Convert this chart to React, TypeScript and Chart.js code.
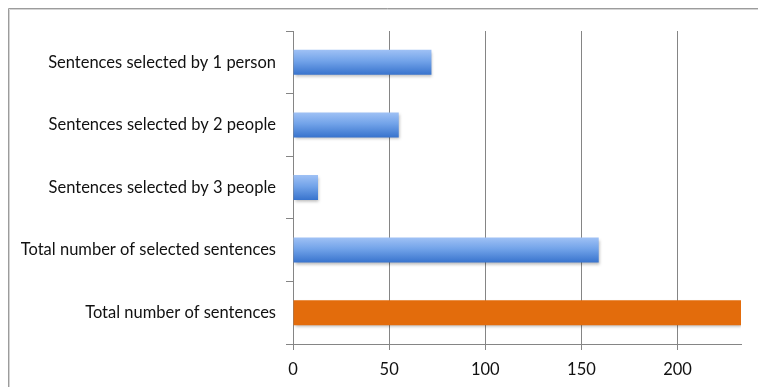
import { useEffect, useRef } from "react";
import { Chart, registerables } from "chart.js";

Chart.register(...registerables);

// Category labels, top to bottom
const categories = [
  "Sentences selected by 1 person",
  "Sentences selected by 2 people",
  "Sentences selected by 3 people",
  "Total number of selected sentences",
  "Total number of sentences",
];
// Sentence counts per category
const counts = [72, 55, 13, 159, 233];
// The overall total is drawn in orange
const highlightIndex = 4;
const axisMax = 233;
const tickStep = 50;

const FONT = "Lato, 'DejaVu Sans', sans-serif";
const GRID = "#858585";

const framePlugin = {
  id: "frame",
  beforeDraw(chart: any) {
    const c = chart.ctx;
    c.save();
    c.fillStyle = "#ffffff";
    c.fillRect(0, 0, chart.width, chart.height);
    c.lineWidth = 1;
    c.strokeStyle = "#9c9c9c";
    c.beginPath();
    c.moveTo(0.5, chart.height);
    c.lineTo(0.5, 0.5);
    c.lineTo(chart.width, 0.5);
    c.stroke();
    c.strokeStyle = "#d4d4d4";
    c.beginPath();
    c.moveTo(1.5, chart.height);
    c.lineTo(1.5, 1.5);
    c.lineTo(chart.width, 1.5);
    c.stroke();
    c.restore();
  },
};

const shadowPlugin = {
  id: "barShadow",
  beforeDatasetsDraw(chart: any) {
    const c = chart.ctx;
    c.save();
    c.shadowColor = "rgba(0,0,0,0.28)";
    c.shadowBlur = 3;
    c.shadowOffsetX = 1;
    c.shadowOffsetY = 2;
  },
  afterDatasetsDraw(chart: any) {
    chart.ctx.restore();
  },
};

function barFill(ctx: any) {
  const i = ctx.dataIndex;
  if (i === highlightIndex) return "#e36c0c";
  const chart = ctx.chart;
  const y = chart.scales && chart.scales.y;
  if (i === undefined || !y || !chart.chartArea) return "#6a9ee8";
  const center = y.getPixelForValue(i);
  const half = (y.getPixelForValue(1) - y.getPixelForValue(0)) * 0.2;
  const g = chart.ctx.createLinearGradient(0, center - half, 0, center + half);
  g.addColorStop(0, "#9fc1f5");
  g.addColorStop(0.45, "#72a3e9");
  g.addColorStop(1, "#3873cd");
  return g;
}

export default function App() {
  const ref = useRef<HTMLCanvasElement | null>(null);

  useEffect(() => {
    document.body.style.overflow = "hidden";
    const canvas = ref.current;
    if (!canvas) return;
    const chart = new Chart(canvas, {
      type: "bar",
      data: {
        labels: categories,
        datasets: [
          {
            data: counts,
            backgroundColor: barFill as any,
            borderWidth: 0,
            barPercentage: 0.5,
            categoryPercentage: 0.8,
          },
        ],
      },
      options: {
        indexAxis: "y",
        responsive: false,
        animation: false,
        layout: { padding: { top: 23, right: 25, left: 0, bottom: 0 } },
        plugins: {
          legend: { display: false },
          tooltip: { enabled: false },
        },
        scales: {
          x: {
            min: 0,
            max: axisMax,
            afterBuildTicks: (scale: any) => {
              scale.ticks = scale.ticks.filter((t: any) => t.value % tickStep === 0);
            },
            afterFit: (scale: any) => {
              scale.height = 43;
            },
            ticks: {
              stepSize: tickStep,
              color: "#111111",
              font: { family: FONT, size: 16.5 },
              padding: 10,
            },
            grid: {
              color: GRID,
              lineWidth: 1,
              tickLength: 6,
            },
            border: { display: true, color: GRID, width: 1 },
          },
          y: {
            afterFit: (scale: any) => {
              scale.width = 285;
            },
            ticks: {
              color: "#111111",
              font: { family: FONT, size: 16.5 },
              padding: 10,
            },
            grid: {
              offset: true,
              drawOnChartArea: false,
              drawTicks: true,
              tickLength: 7,
              color: GRID,
            },
            border: { display: true, color: GRID, width: 1 },
          },
        },
      },
      plugins: [framePlugin, shadowPlugin],
    });
    return () => chart.destroy();
  }, []);

  return (
    <div style={{ width: 758, height: 379 }}>
      <canvas ref={ref} width={758} height={379} style={{ display: "block" }} />
    </div>
  );
}
